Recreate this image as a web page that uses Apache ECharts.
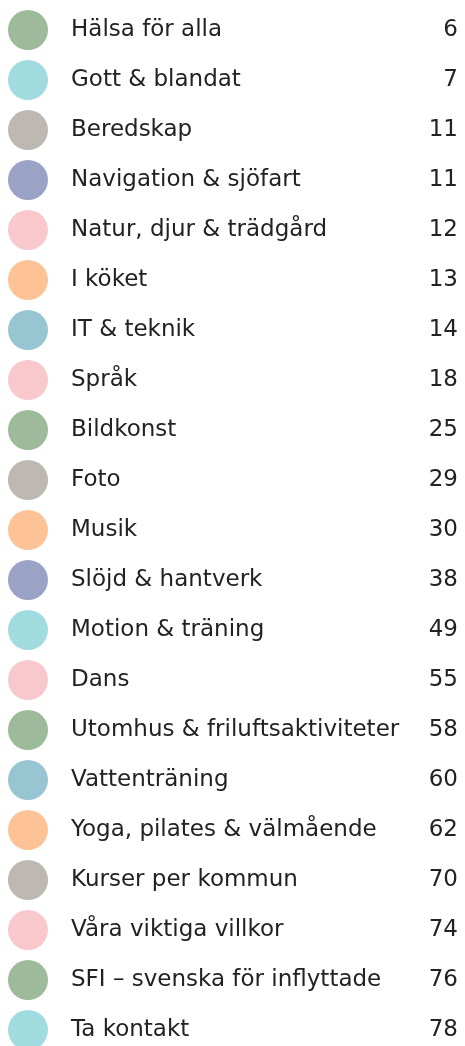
<!DOCTYPE html>
<html>
<head>
<meta charset="utf-8">
<style>
  html, body { margin: 0; padding: 0; background: #fff; }
  #main { width: 465px; height: 1046px; }
</style>
<script src="https://cdn.jsdelivr.net/npm/echarts@6/dist/echarts.min.js"></script>
</head>
<body>
<div id="main"></div>
<script>
// innehåll: rubrik, sida, färg
var titles = ['Hälsa för alla', 'Gott & blandat', 'Beredskap', 'Navigation & sjöfart',
  'Natur, djur & trädgård', 'I köket', 'IT & teknik', 'Språk', 'Bildkonst', 'Foto',
  'Musik', 'Slöjd & hantverk', 'Motion & träning', 'Dans', 'Utomhus & friluftsaktiviteter',
  'Vattenträning', 'Yoga, pilates & välmående', 'Kurser per kommun', 'Våra viktiga villkor',
  'SFI – svenska för inflyttade', 'Ta kontakt'];
var pages = ['6', '7', '11', '11', '12', '13', '14', '18', '25', '29', '30', '38', '49',
  '55', '58', '60', '62', '70', '74', '76', '78'];
var colors = ['#9dba9a', '#a0dbe0', '#bdb8b1', '#9aa3c5', '#f8c8cc', '#fdc397', '#98c5d2',
  '#f8c8cc', '#9dba9a', '#bdb8b1', '#fdc397', '#9aa3c5', '#a0dbe0', '#f8c8cc', '#9dba9a',
  '#98c5d2', '#fdc397', '#bdb8b1', '#f8c8cc', '#9dba9a', '#a0dbe0'];

var myChart = echarts.init(document.getElementById('main'));

var textStyle = { fontFamily: 'DejaVu Sans', fontSize: 23, color: '#222' };

var option = {
  animation: false,
  grid: { left: 0, width: 465, top: 30, height: 1000 },
  xAxis: { type: 'value', min: 0, max: 465, show: false },
  yAxis: [{
    type: 'category', data: titles, inverse: true, position: 'left', boundaryGap: false,
    axisLine: { show: false }, axisTick: { show: false }, splitLine: { show: false },
    axisLabel: Object.assign({ inside: true, margin: 71 }, textStyle)
  }, {
    type: 'category', data: pages, inverse: true, position: 'right', boundaryGap: false,
    axisLine: { show: false }, axisTick: { show: false }, splitLine: { show: false },
    axisLabel: Object.assign({ inside: true, margin: 7 }, textStyle)
  }],
  series: [{
    type: 'scatter',
    symbolSize: 40,
    data: titles.map(function (t, i) {
      return { value: [28, t], itemStyle: { color: colors[i], opacity: 1 } };
    })
  }]
};

myChart.setOption(option);
</script>
</body>
</html>
